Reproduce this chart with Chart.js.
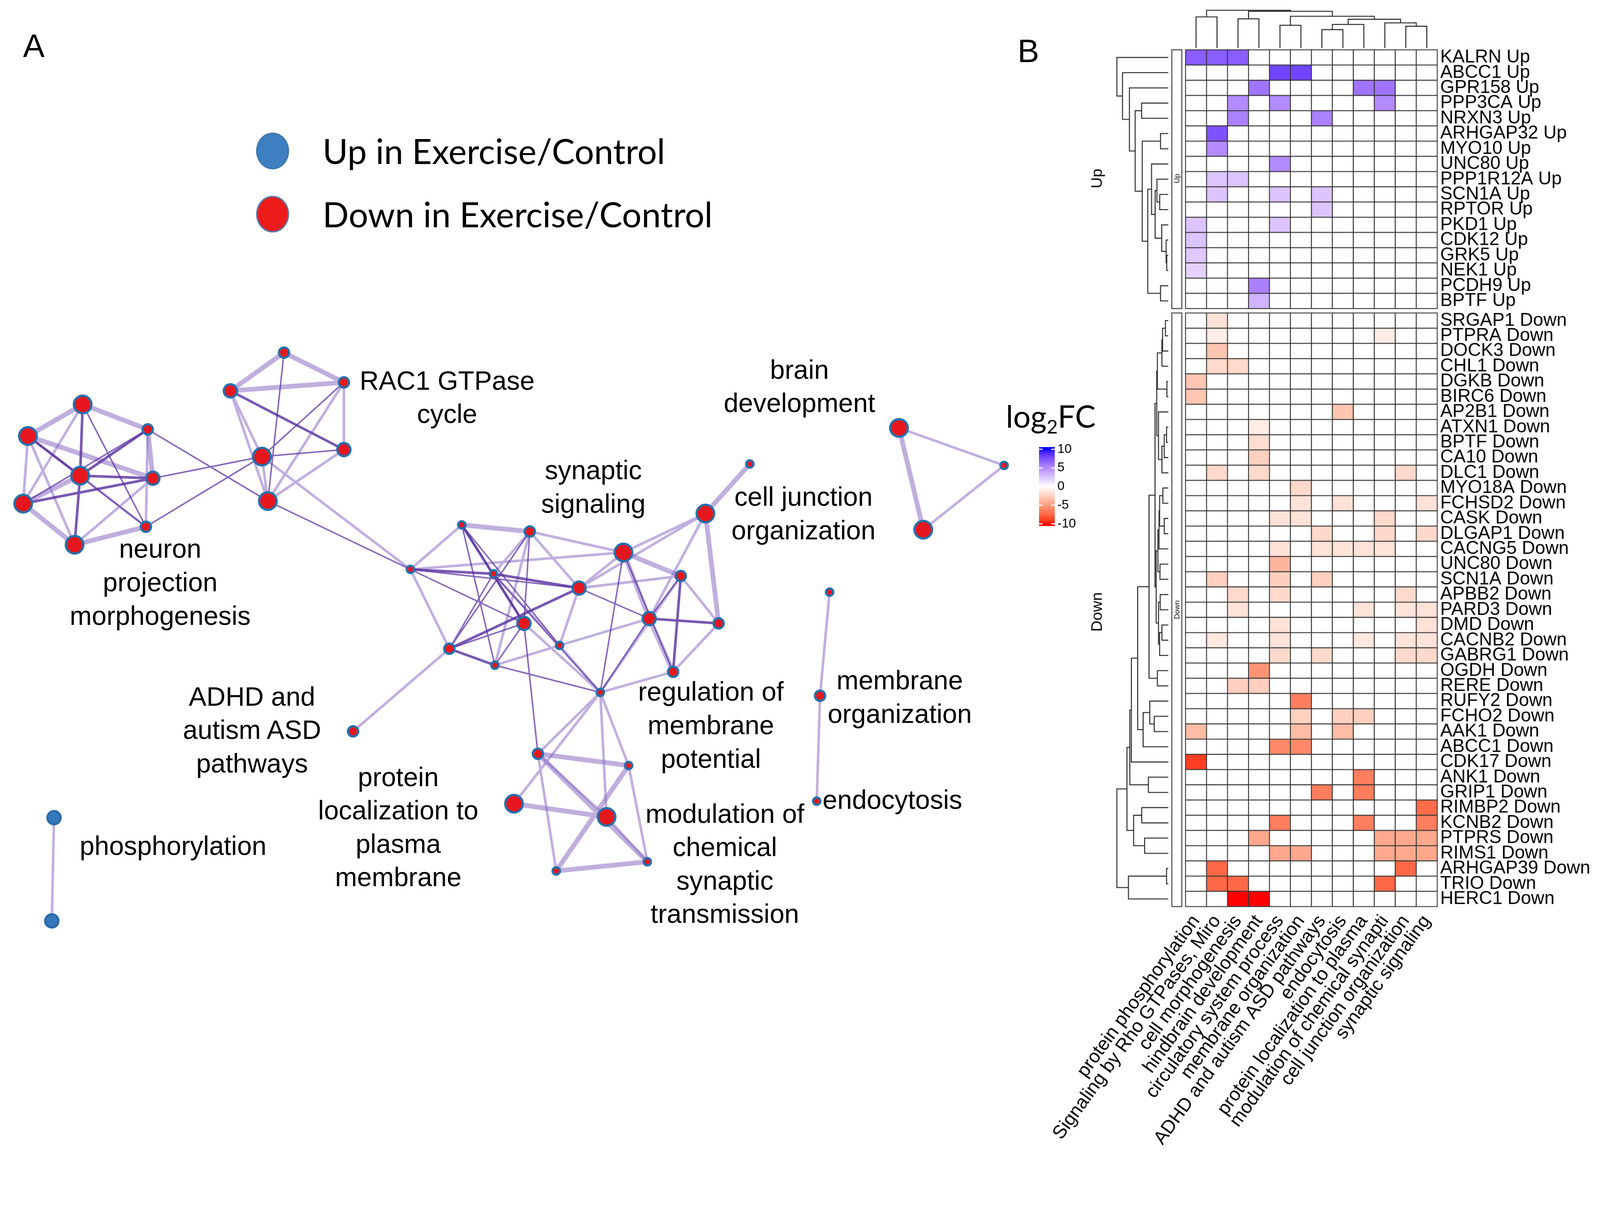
<!DOCTYPE html>
<html><head><meta charset="utf-8">
<script src="https://cdn.jsdelivr.net/npm/chart.js"></script>
<style>
html,body{margin:0;padding:0;background:#fff;overflow:hidden;}
#root{position:relative;width:4355px;height:3134px;overflow:hidden;background:#fff;transform-origin:0 0;}
canvas{position:absolute;}
.t{position:absolute;white-space:pre;color:#000;transform:translate(-50%,-50%);}
.tl{position:absolute;white-space:pre;color:#000;transform:translate(0,-50%);}
.dot{position:absolute;border-radius:50%;box-sizing:border-box;}
</style></head>
<body><div id="root">
<canvas id="net" width="2800" height="3134" style="left:0;top:0"></canvas>
<canvas id="heat" width="1655" height="3134" style="left:2700px;top:0"></canvas>
<canvas id="cbar" width="200" height="330" style="left:2780px;top:1150px"></canvas>
</div>
<script>
// ---------------- DATA ----------------
const columnCategories = ["protein phosphorylation","Signaling by Rho GTPases, Miro","cell morphogenesis","hindbrain development","circulatory system process","membrane organization","ADHD and autism ASD pathways","endocytosis","protein localization to plasma","modulation of chemical synapti","cell junction organization","synaptic signaling"];
const upGenes = ["KALRN Up","ABCC1 Up","GPR158 Up","PPP3CA Up","NRXN3 Up","ARHGAP32 Up","MYO10 Up","UNC80 Up","PPP1R12A Up","SCN1A Up","RPTOR Up","PKD1 Up","CDK12 Up","GRK5 Up","NEK1 Up","PCDH9 Up","BPTF Up"];
const downGenes = ["SRGAP1 Down","PTPRA Down","DOCK3 Down","CHL1 Down","DGKB Down","BIRC6 Down","AP2B1 Down","ATXN1 Down","BPTF Down","CA10 Down","DLC1 Down","MYO18A Down","FCHSD2 Down","CASK Down","DLGAP1 Down","CACNG5 Down","UNC80 Down","SCN1A Down","APBB2 Down","PARD3 Down","DMD Down","CACNB2 Down","GABRG1 Down","OGDH Down","RERE Down","RUFY2 Down","FCHO2 Down","AAK1 Down","ABCC1 Down","CDK17 Down","ANK1 Down","GRIP1 Down","RIMBP2 Down","KCNB2 Down","PTPRS Down","RIMS1 Down","ARHGAP39 Down","TRIO Down","HERC1 Down"];
const upValues = [
 [7,7,7,0,0,0,0,0,0,0,0,0],
 [0,0,0,0,8,8,0,0,0,0,0,0],
 [0,0,0,6,0,0,0,0,6,6,0,0],
 [0,0,5,0,5,0,0,0,0,5,0,0],
 [0,0,5.5,0,0,0,5.5,0,0,0,0,0],
 [0,7.5,0,0,0,0,0,0,0,0,0,0],
 [0,5,0,0,0,0,0,0,0,0,0,0],
 [0,0,0,0,5,0,0,0,0,0,0,0],
 [0,2.5,2.5,0,0,0,0,0,0,0,0,0],
 [0,2.5,0,0,2.5,0,2.5,0,0,0,0,0],
 [0,0,0,0,0,0,2.5,0,0,0,0,0],
 [2.5,0,0,0,2.5,0,0,0,0,0,0,0],
 [2.5,0,0,0,0,0,0,0,0,0,0,0],
 [2.3,0,0,0,0,0,0,0,0,0,0,0],
 [1.9,0,0,0,0,0,0,0,0,0,0,0],
 [0,0,0,5.5,0,0,0,0,0,0,0,0],
 [0,0,0,3.3,0,0,0,0,0,0,0,0]
];
const downValues = [
 [0,-1.5,0,0,0,0,0,0,0,0,0,0],
 [0,-1,0,0,0,0,0,0,0,-1,0,0],
 [0,-3,0,0,0,0,0,0,0,0,0,0],
 [0,-2,-2,0,0,0,0,0,0,0,0,0],
 [-3,0,0,0,0,0,0,0,0,0,0,0],
 [-3,0,0,0,0,0,0,0,0,0,0,0],
 [0,0,0,0,0,0,0,-3,0,0,0,0],
 [0,0,0,-1,0,0,0,0,0,0,0,0],
 [0,0,0,-1.8,0,0,0,0,0,0,0,0],
 [0,0,0,-2.5,0,0,0,0,0,0,0,0],
 [0,-2,0,-2,0,0,0,0,0,0,-2,0],
 [0,0,0,0,0,-2,0,0,0,0,0,0],
 [0,0,0,0,0,-1.5,0,-1.5,0,0,0,-1.5],
 [0,0,0,0,-1.5,-1.5,0,0,0,-2,0,0],
 [0,0,0,0,0,0,-2,0,0,-2,0,-2],
 [0,0,0,0,-1.5,0,-1.5,-1.5,-1.5,-1.5,0,0],
 [0,0,0,0,-3.8,0,0,0,0,0,0,0],
 [0,-2.5,0,0,-2.5,0,-2.5,0,0,0,0,0],
 [0,0,-2,0,-2,0,0,0,0,0,-2,0],
 [0,0,-1.5,0,0,0,0,0,-1.5,0,-1.5,-1.5],
 [0,0,0,0,-1.5,0,0,0,0,0,0,-1.5],
 [0,-1.2,0,0,-1.5,0,0,0,-1.2,0,-1.5,-1.5],
 [0,0,0,0,-2,0,-2,0,0,0,-2,-2],
 [0,0,0,-5.5,0,0,0,0,0,0,0,0],
 [0,0,-2.5,-2.5,0,0,0,0,0,0,0,0],
 [0,0,0,0,0,-6.5,0,0,0,0,0,0],
 [0,0,0,0,0,-2.5,0,-2.5,-2.5,0,0,0],
 [-3.5,0,0,0,0,-3.5,0,-3.5,0,0,0,0],
 [0,0,0,0,-6,-6,0,0,0,0,0,0],
 [-9,0,0,0,0,0,0,0,0,0,0,0],
 [0,0,0,0,0,0,0,0,-6.5,0,0,0],
 [0,0,0,0,0,0,-6.5,0,-6.5,0,0,0],
 [0,0,0,0,0,0,0,0,0,0,0,-7.3],
 [0,0,0,0,-6.5,0,0,0,-6.5,0,0,-6.5],
 [0,0,0,-4.5,0,0,0,0,0,-4.5,-4.5,-4.5],
 [0,0,0,0,-4.5,-4.5,0,0,0,-4.5,-4.5,-4.5],
 [0,-7.5,0,0,0,0,0,0,0,0,-7.5,0],
 [0,-7.5,-7.5,0,0,0,0,0,0,-7.5,0,0],
 [0,0,-10,-10,0,0,0,0,0,0,0,0]
];
const colorbarTicks = [10,5,0,-5,-10];
// hclust-style merges: negative = leaf (1-based), positive = earlier merge; third = relative height
const columnMerges = [[-1,-2,0.826],[-3,-4,0.774],[-5,-6,0.605],[-7,-8,0.489],[4,-9,0.626],[-11,-12,0.579],[-10,6,0.668],[5,7,0.763],[3,8,0.842],[2,9,0.974],[1,10,1.0]];
const upMerges = [[-14,-15,0.03],[-13,1,0.042],[-12,2,0.128],[-10,-11,0.167],[-9,4,0.221],[5,3,0.256],[-8,6,0.326],[-16,-17,0.151],[7,8,0.4],[-6,-7,0.151],[10,9,0.507],[-4,-5,0.519],[12,11,0.644],[-3,13,0.756],[-2,14,0.891],[-1,15,1.0]];
const downMerges = [[-1,-2,0.056],[-3,1,0.112],[-4,2,0.124],[-5,-6,0.027],[3,4,0.213],[-8,-9,0.034],[-10,6,0.079],[-11,7,0.124],[-7,8,0.191],[5,9,0.225],[-12,-13,0.106],[-14,-15,0.079],[11,12,0.169],[13,-16,0.18],[-17,-18,0.162],[14,15,0.202],[-19,-20,0.157],[-21,-22,0.124],[18,-23,0.169],[17,19,0.191],[16,20,0.236],[10,21,0.258],[-24,-25,0.213],[22,23,0.375],[-27,-28,0.274],[-26,25,0.36],[26,-29,0.49],[24,27,0.596],[28,-30,0.719],[-31,-32,0.387],[29,30,0.748],[-33,-34,0.517],[-35,-36,0.461],[32,33,0.674],[31,34,0.804],[-37,-38,0.034],[36,-39,0.775],[35,37,1.0]];

// network layout (layout units), node gene-count class and direction
const nodeIds = ["n0","n1","n2","n3","n4","n5","n6","n7","r0","r1","r2","r3","r4","r5","c0","c1","c2","c3","c4","c5","c6","c7","c8","c9","c10","c11","c12","c13","c14","c15","c16","l0","l1","l2","l3","l4","l5","m0","m1","m2","b0","b1","b2","a0","p0","p1"];
const nodeX = [225,76,402,218,416,63,397,203, 773,627,936,713,936,729, 1117,1257,1442,1343,1576,1697,1853,1426,1767,1956,1223,1523,1347,1832,1634,1920,2041, 1464,1711,1399,1651,1514,1762, 2258,2232,2223, 2447,2733,2513, 961, 147,141];
const nodeY = [1101,1187,1169,1295,1302,1371,1434,1483, 960,1064,1041,1243,1224,1364, 1550,1429,1447,1562,1601,1504,1568,1697,1684,1697,1766,1757,1811,1829,1885,1398,1263, 2052,2084,2188,2224,2371,2346, 1612,1894,2181, 1165,1267,1442, 1991, 2226,2507];
const nodeClass = [4,4,2,4,3,4,2,4, 2,3,2,4,3,4, 1,1,2,1,3,4,2,3,3,2,2,1,1,2,1,4,1, 2,1,4,4,1,1, 1,2,1, 4,1,4, 2, 3,3];
const nodeDir = nodeIds.map(id => (id === "p0" || id === "p1") ? "up" : "down");
const edges = [
 ["n0","n1","l2"],["n0","n2","l2"],["n0","n3","d2"],["n0","n5","l1"],["n0","n6","d1"],
 ["n1","n3","d2"],["n1","n4","l2"],["n1","n5","l1"],["n1","n6","d1"],["n1","n7","l1"],
 ["n2","n3","d2"],["n2","n4","l2"],["n2","n5","d1"],["n2","n6","l1"],
 ["n3","n4","d2"],["n3","n5","l2"],["n3","n7","d2"],["n3","n6","l1"],
 ["n4","n5","d2"],["n4","n7","l1"],["n5","n7","l2"],["n6","n7","l2"],
 ["n2","r5","d1"],["n4","r3","d1"],["n6","r3","d1"],
 ["r0","r1","l2"],["r0","r2","l2"],["r0","r5","d1"],["r1","r2","l2"],["r1","r4","d2"],["r1","r3","l1"],["r1","r5","l1"],["r2","r3","d1"],["r2","r4","l1"],["r2","r5","l1"],["r3","r5","l1"],["r3","r4","d1"],["r4","r5","l1"],
 ["r5","c0","d1"],["r3","c0","l1"],
 ["c0","c1","l1"],["c0","c3","d2"],["c0","c4","d1"],["c0","c10","l1"],["c0","c7","d1"],["c0","c5","l1"],
 ["c1","c2","l2"],["c1","c3","d1"],["c1","c7","d2"],["c1","c12","d1"],["c1","c11","d1"],
 ["c2","c3","l1"],["c2","c7","d1"],["c2","c10","d1"],["c2","c12","l1"],["c2","c4","l1"],["c2","c5","l1"],
 ["c3","c4","d2"],["c3","c7","d1"],["c3","c11","l1"],["c3","c14","d1"],["c3","c10","d1"],
 ["c4","c5","l1"],["c4","c10","d2"],["c4","c8","d1"],["c4","c11","l1"],["c4","c6","l1"],["c4","c15","l1"],
 ["c5","c8","l2"],["c5","c14","d1"],["c5","c13","d1"],["c5","c6","l2"],["c5","c15","l1"],
 ["c6","c8","d1"],["c6","c13","d2"],["c6","c9","l1"],["c6","c14","l1"],
 ["c8","c9","d2"],["c8","c13","l2"],["c8","c14","d1"],["c8","c15","l1"],["c8","c11","l1"],
 ["c9","c13","l1"],["c9","c15","l2"],["c15","c16","l2"],
 ["c10","c12","d2"],["c10","c7","d1"],["c12","c14","d1"],["c11","c14","l1"],["c11","c12","l1"],["c7","c14","l1"],["c13","c14","l1"],["c7","c12","d1"],
 ["c7","l0","d1"],["c14","l0","l1"],["c14","l2","l1"],["c14","l1","l1"],["c14","l3","l1"],
 ["l0","l1","l2"],["l0","l3","l1"],["l0","l4","l1"],["l0","l5","l2"],["l1","l4","l2"],["l1","l5","l1"],["l2","l3","l2"],["l3","l5","l1"],["l4","l5","l2"],
 ["a0","c10","l1"],
 ["m0","m1","l1"],["m1","m2","l1"],
 ["b0","b1","l1"],["b0","b2","l2"],["b1","b2","l1"],
 ["p0","p1","l1"]
];

// ---------------- PAGE SCALE (fit the 4355x3134 design into the viewport) ----------------
const root=document.getElementById('root');
try{const s=Math.min(window.innerWidth/4355,window.innerHeight/3134);
 if(isFinite(s)&&s>0.3&&Math.abs(s-1)>0.002){root.style.transform='scale('+s+')';}}catch(e){}

// ---------------- COLOUR MAP (LAB interpolation, like circlize) ----------------
function s2l(c){c/=255;return c<=0.04045?c/12.92:Math.pow((c+0.055)/1.055,2.4);}
function l2s(c){c=Math.max(0,Math.min(1,c));return Math.round(255*(c<=0.0031308?12.92*c:1.055*Math.pow(c,1/2.4)-0.055));}
function rgb2lab(rgb){const R=s2l(rgb[0]),G=s2l(rgb[1]),B=s2l(rgb[2]);
 const X=(0.4124*R+0.3576*G+0.1805*B)/0.95047,Y=0.2126*R+0.7152*G+0.0722*B,Z=(0.0193*R+0.1192*G+0.9505*B)/1.08883;
 const f=t=>t>0.008856?Math.cbrt(t):7.787*t+16/116;return [116*f(Y)-16,500*(f(X)-f(Y)),200*(f(Y)-f(Z))];}
function lab2rgb(l){const fy=(l[0]+16)/116,fx=fy+l[1]/500,fz=fy-l[2]/200;
 const fi=t=>t*t*t>0.008856?t*t*t:(t-16/116)/7.787;const X=0.95047*fi(fx),Y=fi(fy),Z=1.08883*fi(fz);
 return [l2s(3.2406*X-1.5372*Y-0.4986*Z),l2s(-0.9689*X+1.8758*Y+0.0415*Z),l2s(0.0557*X-0.2040*Y+1.0570*Z)];}
const LW=rgb2lab([255,255,255]),LB=rgb2lab([0,0,255]),LR=rgb2lab([255,0,0]);
function fcColor(v){const t=Math.min(1,Math.abs(v)/10);const E=v>=0?LB:LR;
 const c=lab2rgb([LW[0]+(E[0]-LW[0])*t,LW[1]+(E[1]-LW[1])*t,LW[2]+(E[2]-LW[2])*t]);return `rgb(${c[0]},${c[1]},${c[2]})`;}

// ---------------- HEATMAP ----------------
const GAP = 0.29;
const rowsAll = upGenes.map((g,i)=>({label:g,vals:upValues[i],top:i}))
 .concat(downGenes.map((g,i)=>({label:g,vals:downValues[i],top:upGenes.length+GAP+i})));
const yMaxRows = upGenes.length + GAP + downGenes.length;
function dendro(merges, leafPos, toXY){
 const mp=[],mh=[],pts=[];
 const node=k=>k<0?{p:leafPos[-k-1],h:0}:{p:mp[k-1],h:mh[k-1]};
 merges.forEach((m,i)=>{const a=node(m[0]),b=node(m[1]),h=m[2];
  pts.push(toXY(a.p,a.h),toXY(a.p,h),toXY(b.p,h),toXY(b.p,b.h),{x:null,y:null});
  mp[i]=(a.p+b.p)/2;mh[i]=h;});
 return pts;
}
const colDendroPts = dendro(columnMerges, columnCategories.map((_,i)=>i), (p,h)=>({x:p,y:-0.11-h*2.487}));
const rowX=(p,h)=>({x:-1.323-h*2.452,y:p});
const upDendroPts = dendro(upMerges, upGenes.map((_,i)=>i+0.5), rowX);
const downDendroPts = dendro(downMerges, downGenes.map((_,i)=>upGenes.length+GAP+i+0.5), rowX);
const dendroDS = pts=>({data:pts,showLine:true,spanGaps:false,pointRadius:0,borderColor:'#222',borderWidth:2.6,clip:false});

const heatPlugin = {
 id:'heatcells',
 beforeDatasetsDraw(chart){
  const {ctx,scales:{x,y}}=chart;ctx.save();
  [[0,upGenes.length],[upGenes.length+GAP,yMaxRows]].forEach(([a,b])=>{
   const x0=x.getPixelForValue(-1.155),x1=x.getPixelForValue(-0.68),y0=y.getPixelForValue(a),y1=y.getPixelForValue(b);
   ctx.fillStyle='#fff';ctx.fillRect(x0,y0,x1-x0,y1-y0);ctx.strokeStyle='#333';ctx.lineWidth=2.5;ctx.strokeRect(x0,y0,x1-x0,y1-y0);});
  rowsAll.forEach(r=>{
   r.vals.forEach((v,c)=>{
    const x0=x.getPixelForValue(c-0.5),x1=x.getPixelForValue(c+0.5),y0=y.getPixelForValue(r.top),y1=y.getPixelForValue(r.top+1);
    ctx.fillStyle=fcColor(v);ctx.fillRect(x0,y0,x1-x0,y1-y0);
    ctx.strokeStyle='#333';ctx.lineWidth=2.4;ctx.strokeRect(x0,y0,x1-x0,y1-y0);
   });
  });
  ctx.restore();
 }
};
new Chart(document.getElementById('heat'),{
 type:'scatter',
 data:{datasets:[dendroDS(colDendroPts),dendroDS(upDendroPts),dendroDS(downDendroPts)]},
 options:{responsive:false,animation:false,devicePixelRatio:1,events:[],
  layout:{autoPadding:false,padding:{left:340,top:28,right:0,bottom:0}},
  plugins:{legend:{display:false},tooltip:{enabled:false}},
  scales:{
   x:{type:'linear',position:'bottom',min:-3.775,max:11.5,
    afterBuildTicks:s=>{s.ticks=columnCategories.map((_,i)=>({value:i}));},
    afterFit:s=>{s.height=666;s.paddingLeft=0;s.paddingRight=0;},
    ticks:{autoSkip:false,minRotation:54,maxRotation:54,padding:12,color:'#000',font:{family:'Liberation Sans',size:51},callback:(v,i)=>columnCategories[i]},
    grid:{display:false,drawTicks:false},border:{display:false}},
   y:{type:'linear',position:'right',reverse:true,min:-2.597,max:yMaxRows,
    afterBuildTicks:s=>{s.ticks=rowsAll.map(r=>({value:r.top+0.5}));},
    afterFit:s=>{s.width=443;s.paddingTop=0;s.paddingBottom=0;},
    ticks:{autoSkip:false,padding:8,crossAlign:'near',color:'#000',font:{family:'Liberation Sans',size:50},callback:(v,i)=>rowsAll[i].label},
    grid:{display:false,drawTicks:false},border:{display:false}}
  }},
 plugins:[heatPlugin]
});

// ---------------- COLOUR BAR ----------------
const cbarPlugin={id:'cbar',beforeDatasetsDraw(chart){
 const {ctx,chartArea:a,scales:{y}}=chart;ctx.save();
 const g=ctx.createLinearGradient(0,y.getPixelForValue(10),0,y.getPixelForValue(-10));
 for(let k=0;k<=40;k++){g.addColorStop(k/40,fcColor(10-k*0.5));}
 ctx.fillStyle=g;ctx.fillRect(a.left,a.top,a.right-a.left,a.bottom-a.top);
 ctx.strokeStyle='#fff';ctx.lineWidth=3;
 colorbarTicks.forEach(v=>{const py=y.getPixelForValue(v);ctx.beginPath();ctx.moveTo(a.left,py);ctx.lineTo(a.left+10,py);ctx.moveTo(a.right-10,py);ctx.lineTo(a.right,py);ctx.stroke();});
 ctx.restore();}};
new Chart(document.getElementById('cbar'),{
 type:'scatter',data:{datasets:[{data:[]}]},
 options:{responsive:false,animation:false,devicePixelRatio:1,events:[],
  layout:{autoPadding:false,padding:{left:48,top:67,right:0,bottom:48}},
  plugins:{legend:{display:false},tooltip:{enabled:false}},
  scales:{x:{type:'linear',display:false,min:0,max:1},
   y:{type:'linear',position:'right',min:-10.6,max:10.6,
    afterBuildTicks:s=>{s.ticks=colorbarTicks.map(v=>({value:v}));},
    afterFit:s=>{s.width=109;s.paddingTop=0;s.paddingBottom=0;},
    ticks:{padding:7,crossAlign:'near',color:'#000',font:{family:'Liberation Sans',size:35},callback:v=>String(v)},
    grid:{display:false,drawTicks:false},border:{display:false}}}},
 plugins:[cbarPlugin]
});

// ---------------- NETWORK ----------------
const nodeIndex = Object.fromEntries(nodeIds.map((id,i)=>[id,i]));
const classRadius = {1:10,2:14,3:18,4:24};
const edgeStyle = {
 l2:{color:'rgba(140,110,195,0.55)',width:13},
 l1:{color:'rgba(140,110,195,0.55)',width:7},
 d2:{color:'rgba(90,50,160,0.82)',width:7},
 d1:{color:'rgba(90,50,160,0.75)',width:4}
};
const edgeDatasets = ['l2','l1','d2','d1'].map((type,k)=>{
 const pts=[];
 edges.filter(e=>e[2]===type).forEach(e=>{const a=nodeIndex[e[0]],b=nodeIndex[e[1]];
  pts.push({x:nodeX[a],y:nodeY[a]},{x:nodeX[b],y:nodeY[b]},{x:null,y:null});});
 return {data:pts,showLine:true,spanGaps:false,pointRadius:0,borderColor:edgeStyle[type].color,borderWidth:edgeStyle[type].width,borderCapStyle:'round',order:4-k,clip:false};
});
const nodeDataset = {
 data:nodeIds.map((_,i)=>({x:nodeX[i],y:nodeY[i]})),
 pointRadius:nodeClass.map(c=>classRadius[c]),
 pointBackgroundColor:nodeDir.map(d=>d==='up'?'#3579bd':'#e8161e'),
 pointBorderColor:nodeDir.map(d=>d==='up'?'#2a6aa8':'#2471ab'),
 pointBorderWidth:6,order:0,clip:false
};
new Chart(document.getElementById('net'),{
 type:'scatter',data:{datasets:[nodeDataset,...edgeDatasets]},
 options:{responsive:false,animation:false,devicePixelRatio:1,events:[],layout:{autoPadding:false,padding:0},
  plugins:{legend:{display:false},tooltip:{enabled:false}},
  scales:{x:{type:'linear',display:false,min:0,max:2800},y:{type:'linear',display:false,reverse:true,min:0,max:3134}}}
});

// ---------------- TEXT ----------------
function txt(s,x,y,font,size,cls,extra){const d=document.createElement('div');d.className=cls||'t';d.textContent=s;
 d.style.left=x+'px';d.style.top=y+'px';d.style.fontFamily=font;d.style.fontSize=size+'px';d.style.lineHeight='1.2';
 if(extra)Object.assign(d.style,extra);root.appendChild(d);return d;}
const LS='"Liberation Sans", Arial, sans-serif';
const netLabels=[
 [["RAC1 GTPase","cycle"],1217,1036],
 [["neuron","projection","morphogenesis"],436,1494],
 [["synaptic","signaling"],1615,1280],
 [["brain","development"],2176,1006],
 [["cell junction","organization"],2187,1352],
 [["ADHD and","autism ASD","pathways"],686,1896],
 [["regulation of","membrane","potential"],1935,1883],
 [["membrane","organization"],2449,1852],
 [["protein","localization to","plasma","membrane"],1084,2115],
 [["modulation of","chemical","synaptic","transmission"],1973,2215]
];
netLabels.forEach(([lines,x,y])=>lines.forEach((l,i)=>txt(l,x,y+i*91,LS,72)));
txt("endocytosis",2239,2177,LS,72,'tl');
txt("phosphorylation",217,2303,LS,72,'tl');
txt("A",92,125,LS,88);
txt("B",2799,139,LS,88);
function dot(cx,cy,rx,ry,bg,bd,bw){const d=document.createElement('div');d.className='dot';
 Object.assign(d.style,{left:(cx-rx)+'px',top:(cy-ry)+'px',width:2*rx+'px',height:2*ry+'px',background:bg,border:bw+'px solid '+bd});root.appendChild(d);}
dot(742,411,45,50,'#3d7fc0','#3a72aa',3);
dot(742,583,45,50,'#ee1b1b','#56739c',4);
txt("Up in Exercise/Control",878,411,'Lato, "Noto Sans", sans-serif',94,'tl');
txt("Down in Exercise/Control",878,583,'Lato, "Noto Sans", sans-serif',94,'tl');
const lf=txt("",2860,1133,'Lato, "Noto Sans", sans-serif',84);
lf.innerHTML='log<sub style="font-size:0.62em;vertical-align:-0.3em;line-height:0">2</sub>FC';
txt("Up",2985,486,LS,42,'t',{transform:'translate(-50%,-50%) rotate(-90deg)'});
txt("Down",2985,1666,LS,42,'t',{transform:'translate(-50%,-50%) rotate(-90deg)'});
txt("Up",3203,486,LS,20,'t',{transform:'translate(-50%,-50%) rotate(-90deg)'});
txt("Down",3203,1660,LS,20,'t',{transform:'translate(-50%,-50%) rotate(-90deg)'});
</script>
</body></html>
